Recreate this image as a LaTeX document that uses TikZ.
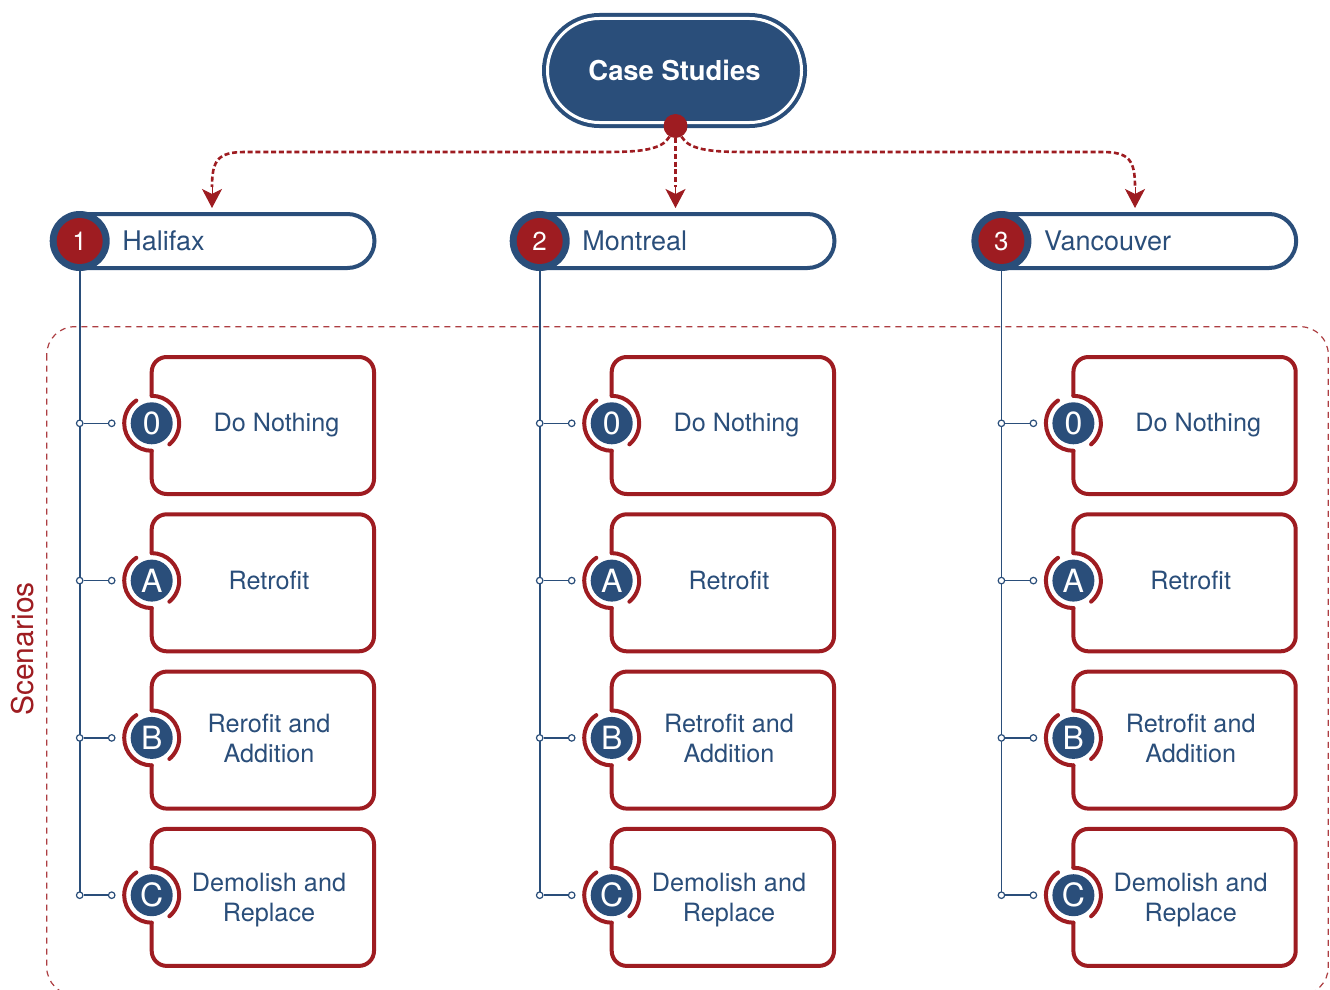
\documentclass[tikz,border=0pt]{standalone}
\usepackage{fontspec}
\setmainfont{TeX Gyre Heros}
\usetikzlibrary{arrows.meta}
\definecolor{navy}{RGB}{42,78,122}
\definecolor{brick}{RGB}{158,28,33}
\pgfdeclarelayer{back}
\pgfsetlayers{back,main}

% red outline of a scenario box, notched round its badge at (#1,#2)
\newcommand\scenariobox[2]{%
  \pgfmathsetmacro\sbL{#1}%
  \pgfmathsetmacro\sbR{#1+222.3}%
  \pgfmathsetmacro\sbT{#2-66.3}%
  \pgfmathsetmacro\sbB{#2+70.7}%
  \pgfmathsetmacro\sbRt{#2-27.5}%
  \pgfmathsetmacro\sbRb{#2+27.5}%
  \draw[outline, rounded corners=15pt] (\sbL,\sbRb) -- (\sbL,\sbB) -- (\sbR,\sbB)
        -- (\sbR,\sbT) -- (\sbL,\sbT) -- (\sbL,\sbRt);
  \draw[outline] (\sbL,\sbRt) arc[start angle=-90, end angle=50, radius=27.5];
  \draw[outline] (\sbL,\sbRb) arc[start angle=90, end angle=236, radius=27.5];
}

\begin{document}
\begin{tikzpicture}[x=1pt,y=-1pt,
  outline/.style={draw=brick, line width=4pt, line cap=round},
  hdrline/.style={draw=navy, fill=white, line width=4pt},
  hdrdisc/.style={circle, fill=navy, minimum size=60pt, inner sep=0pt},
  hdrnum/.style={circle, fill=brick, minimum size=46pt, inner sep=0pt, text=white,
                 font=\fontsize{26pt}{26pt}\selectfont},
  hdrtext/.style={text=navy, inner sep=0pt, font=\fontsize{27pt}{30pt}\selectfont},
  badge/.style={circle, fill=navy, minimum size=42pt, inner sep=0pt, text=white,
                font=\fontsize{32pt}{32pt}\selectfont},
  boxtext/.style={text=navy, align=center, inner sep=0pt,
                  font=\fontsize{25.2pt}{30pt}\selectfont},
  jdot/.style={circle, draw=navy, fill=white, line width=1.2pt, minimum size=6.5pt, inner sep=0pt},
  tie/.style={draw=navy, line width=1.5pt},
  spine/.style={draw=navy, line width=1.6pt},
  flow/.style={draw=brick, line width=2.6pt, dash pattern=on 5pt off 2.8pt},
  head/.style={draw=brick, fill=brick, line width=1pt,
               -{Stealth[length=19pt, width=20pt, inset=5pt]}},
  group/.style={draw=brick!85, line width=1.2pt, dash pattern=on 6pt off 5pt, rounded corners=28pt}
]
\useasboundingbox (0,0) rectangle (1330,990);
\begin{pgfonlayer}{back}
  \fill[white] (0,0) rectangle (1330,990);
\end{pgfonlayer}

% scenario group frame and its label
\draw[group] (46.7,326.7) rectangle (1328.3,995);
\node[text=brick, rotate=90, anchor=base, inner sep=0pt,
      font=\fontsize{30pt}{30pt}\selectfont] (scen) at (33,649) {Scenarios};

% root
\fill[navy, rounded corners=57.4pt] (542,13) rectangle (807,128);
\draw[white, line width=3pt, rounded corners=51.9pt] (547.5,18.5) rectangle (801.5,122.5);
\node[text=white, anchor=base, inner sep=0pt,
      font=\fontsize{27.4pt}{30pt}\selectfont\bfseries] (cs) at (674.5,81) {Case Studies};
\node[circle, fill=brick, minimum size=24pt, inner sep=0pt] (hub) at (675.5,126) {};

% dotted links to the city headers; solid heads at their ends
\coordinate (a1) at (212,187);  \coordinate (in1) at (212,208);
\coordinate (a2) at (675.5,187); \coordinate (in2) at (675.5,208);
\coordinate (a3) at (1135,187); \coordinate (in3) at (1135,208);
\draw[flow] (hub) .. controls (662,150) and (640,152) .. (605,152) -- (245,152)
      .. controls (218,152) and (212,160) .. (a1);
\draw[flow] (hub) -- (a2);
\draw[flow] (hub) .. controls (689,150) and (711,152) .. (746,152) -- (1102,152)
      .. controls (1129,152) and (1135,160) .. (a3);
\draw[head] (a1) -- (in1);
\draw[head] (a2) -- (in2);
\draw[head] (a3) -- (in3);

% one column per city
\foreach \dx/\city/\num/\bword in {0/Halifax/1/Rerofit,460/Montreal/2/Retrofit,921.7/Vancouver/3/Retrofit}{
  \pgfmathsetmacro\cx{79.7+\dx}
  \pgfmathsetmacro\px{\cx+267.8}
  \pgfmathsetmacro\bx{151.7+\dx}
  \draw[hdrline] (\cx,214) -- (\px,214) arc[start angle=-90, end angle=90, radius=27] -- (\cx,268);
  \node[hdrdisc] (c\num) at (\cx,241) {};
  \node[hdrnum] (n\num) at (c\num) {\num};
  \node[hdrtext, anchor=base west] (t\num) at (\cx+42.5,250) {\city};
  \foreach \k/\lab in {0/0,1/A,2/B,3/C}{
    \pgfmathsetmacro\by{423.3+157.3*\k}
    \scenariobox{\bx}{\by}
    \node[badge] (s\num-\lab) at (\bx,\by) {\lab};
    \node[jdot] (jl\num-\lab) at (\cx,\by) {};
    \node[jdot] (jr\num-\lab) at (\cx+32,\by) {};
    \draw[tie] (jl\num-\lab) -- (jr\num-\lab);
  }
  \begin{pgfonlayer}{back}
    \draw[spine] (c\num) -- (jl\num-C.center);
  \end{pgfonlayer}
  \node[boxtext, anchor=base] (d\num-0) at (\bx+124.8,431.7) {Do Nothing};
  \node[boxtext, anchor=base] (d\num-A) at (\bx+117.3,589.1) {Retrofit};
  \node[boxtext] (d\num-B) at (\bx+117.3,738.9) {\bword{} and\\Addition};
  \node[boxtext] (d\num-C) at (\bx+117.3,899.7) {Demolish and\\Replace};
}
\end{tikzpicture}
\end{document}
